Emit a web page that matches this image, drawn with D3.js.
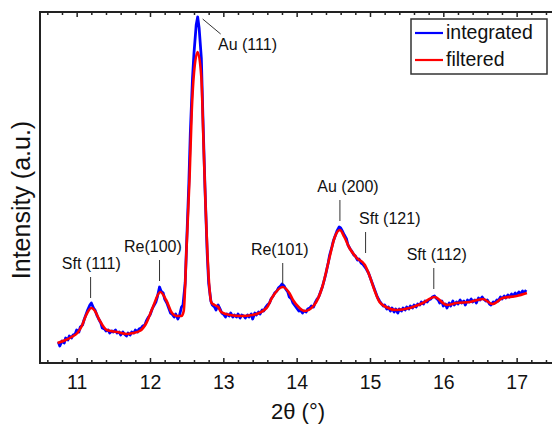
<!DOCTYPE html>
<html>
<head>
<meta charset="utf-8">
<script src="https://cdn.jsdelivr.net/npm/d3@7"></script>
<style>
  body { margin: 0; background: #fff; }
  svg { display: block; font-family: "Liberation Sans", Arial, Helvetica, sans-serif; }
  .frame { stroke: #222; stroke-width: 2; fill: none; }
  .tick line { stroke: #222; stroke-width: 1.5; }
  .domain { display: none; }
  .integrated { fill: none; stroke: #0000ff; stroke-width: 2.8; stroke-linejoin: round; }
  .filtered { fill: none; stroke: #ff0000; stroke-width: 2.6; stroke-linejoin: round; }
  .leader { stroke: #333; stroke-width: 1; }
</style>
</head>
<body>
<div class="container"></div>
<script>
const WIDTH = 552;
const HEIGHT = 424;
const LEFT = 40;
const TOP = 12;
const BOTTOM = 363;

// tick labels
var xTicks = [11, 12, 13, 14, 15, 16, 17];

// filtered curve: 2theta (deg), intensity (a.u.)
var filteredT = [10.74, 10.85, 10.93, 11.01, 11.07, 11.13, 11.20, 11.25, 11.31, 11.41,
  11.55, 11.68, 11.77, 11.86, 11.95, 12.04, 12.14, 12.22, 12.30, 12.36,
  12.43, 12.46, 12.50, 12.54, 12.57, 12.60, 12.65, 12.70, 12.73, 12.76,
  12.80, 12.84, 12.88, 12.93, 12.97, 13.09, 13.25, 13.40, 13.59, 13.67,
  13.81, 13.90, 13.95, 14.04, 14.11, 14.24, 14.35, 14.45, 14.52, 14.59,
  14.65, 14.72, 14.82, 14.93, 14.99, 15.06, 15.13, 15.22, 15.36, 15.54,
  15.72, 15.88, 16.05, 16.18, 16.36, 16.54, 16.67, 16.81, 17.00, 17.14];
var filteredI = [20, 23, 26, 30, 37, 48, 55, 52, 43, 33,
  31, 29, 30, 32, 40, 56, 71, 63, 50, 47,
  47, 52, 118, 186, 253, 290, 311, 286, 220, 153,
  86, 60, 58, 56, 51, 48, 47, 48, 55, 66,
  76, 70, 63, 55, 52, 58, 76, 106, 126, 133,
  126, 115, 105, 98, 88, 73, 61, 56, 53, 55,
  60, 66, 58, 60, 61, 64, 59, 65, 67, 70];

// integrated (raw) curve: 2theta (deg), intensity (a.u.)
var integratedT = [10.75, 10.77, 10.80, 10.83, 10.85, 10.88, 10.90, 10.93, 10.95, 10.98,
  11.00, 11.03, 11.05, 11.08, 11.10, 11.13, 11.15, 11.18, 11.20, 11.23,
  11.25, 11.28, 11.30, 11.33, 11.35, 11.38, 11.40, 11.43, 11.45, 11.48,
  11.50, 11.53, 11.55, 11.58, 11.60, 11.63, 11.65, 11.68, 11.70, 11.73,
  11.75, 11.78, 11.80, 11.83, 11.85, 11.88, 11.90, 11.93, 11.95, 11.98,
  12.00, 12.03, 12.05, 12.08, 12.10, 12.13, 12.15, 12.18, 12.20, 12.23,
  12.25, 12.28, 12.30, 12.33, 12.35, 12.38, 12.40, 12.43, 12.45, 12.48,
  12.50, 12.53, 12.55, 12.58, 12.60, 12.63, 12.65, 12.67, 12.70, 12.72,
  12.75, 12.78, 12.80, 12.83, 12.85, 12.88, 12.90, 12.93, 12.95, 12.98,
  13.00, 13.03, 13.05, 13.08, 13.10, 13.13, 13.15, 13.18, 13.20, 13.23,
  13.25, 13.28, 13.30, 13.33, 13.35, 13.38, 13.40, 13.43, 13.45, 13.48,
  13.50, 13.53, 13.55, 13.58, 13.60, 13.63, 13.65, 13.68, 13.70, 13.73,
  13.75, 13.78, 13.80, 13.83, 13.85, 13.88, 13.90, 13.93, 13.95, 13.98,
  14.00, 14.03, 14.05, 14.08, 14.10, 14.13, 14.15, 14.18, 14.20, 14.23,
  14.25, 14.28, 14.30, 14.33, 14.35, 14.38, 14.40, 14.43, 14.45, 14.48,
  14.50, 14.53, 14.55, 14.58, 14.60, 14.63, 14.65, 14.68, 14.70, 14.73,
  14.75, 14.78, 14.80, 14.83, 14.85, 14.88, 14.90, 14.93, 14.95, 14.98,
  15.00, 15.03, 15.05, 15.08, 15.10, 15.13, 15.15, 15.18, 15.20, 15.23,
  15.25, 15.28, 15.30, 15.33, 15.35, 15.38, 15.40, 15.43, 15.45, 15.48,
  15.50, 15.53, 15.55, 15.58, 15.60, 15.63, 15.65, 15.68, 15.70, 15.73,
  15.75, 15.78, 15.80, 15.83, 15.85, 15.88, 15.90, 15.93, 15.95, 15.98,
  16.00, 16.03, 16.05, 16.08, 16.10, 16.13, 16.15, 16.18, 16.20, 16.23,
  16.25, 16.28, 16.30, 16.33, 16.35, 16.38, 16.40, 16.43, 16.45, 16.48,
  16.50, 16.53, 16.55, 16.58, 16.60, 16.63, 16.65, 16.68, 16.70, 16.73,
  16.75, 16.78, 16.80, 16.83, 16.85, 16.88, 16.90, 16.93, 16.95, 16.98,
  17.00, 17.03, 17.05, 17.08, 17.10, 17.13];
var integratedI = [21, 17, 22, 20, 25, 23, 27, 25, 28, 29,
  33, 31, 36, 38, 43, 49, 53, 58, 60, 55,
  53, 47, 44, 40, 35, 34, 32, 33, 30, 32,
  31, 33, 30, 31, 28, 31, 29, 27, 30, 28,
  31, 30, 33, 31, 34, 35, 37, 38, 42, 46,
  48, 54, 57, 61, 66, 76, 72, 70, 64, 60,
  56, 50, 49, 46, 49, 44, 47, 56, 58, 80,
  120, 180, 230, 285, 310, 338, 346, 335, 305, 250,
  175, 110, 80, 62, 58, 56, 53, 58, 55, 50,
  49, 46, 49, 47, 50, 46, 48, 46, 49, 45,
  48, 47, 45, 48, 46, 49, 44, 50, 48, 51,
  49, 53, 52, 56, 58, 60, 64, 67, 70, 72,
  75, 77, 79, 77, 74, 71, 66, 64, 60, 57,
  55, 52, 53, 50, 52, 51, 54, 55, 57, 56,
  60, 64, 66, 72, 76, 84, 90, 100, 108, 116,
  122, 128, 132, 136, 135, 131, 128, 124, 118, 114,
  112, 108, 107, 103, 104, 100, 99, 96, 94, 90,
  86, 80, 76, 70, 66, 62, 60, 57, 58, 54,
  56, 52, 55, 51, 54, 50, 54, 52, 55, 53,
  56, 54, 57, 55, 58, 56, 59, 58, 61, 59,
  62, 61, 63, 64, 66, 67, 65, 63, 60, 62,
  57, 59, 55, 60, 57, 62, 58, 61, 59, 63,
  60, 62, 58, 63, 61, 64, 61, 63, 60, 65,
  63, 66, 64, 62, 63, 59, 58, 61, 60, 63,
  62, 66, 64, 67, 65, 68, 66, 69, 67, 70,
  68, 71, 69, 72, 70, 73];

// peak annotations: label, peak position, intensity at leader top, label centre position
var annText = ["Sft (111)", "Re(100)", "Au (111)", "Re(101)", "Au (200)", "Sft (121)", "Sft (112)"];
var annPeak = [11.19, 12.13, 12.65, 13.81, 14.59, 14.94, 15.87];
var annTop = [86, 103, 344, 100, 163, 131, 95];
var annLabelX = [11.20, 12.04, 13.33, 13.77, 14.70, 15.27, 15.91];

var legendNames = ["integrated", "filtered"];

var translate = function (x, y) {
  return 'translate(' + x + ',' + y + ')';
};

var zip = function (ts, vs) {
  return ts.map(function (t, i) { return {t: t, v: vs[i]}; });
};

var execute = function () {
  var svg = d3.select('.container').append('svg')
    .attr('width', WIDTH)
    .attr('height', HEIGHT);

  var xScale = d3.scaleLinear()
    .domain([10.5, 17.5])
    .range([LEFT, LEFT + 7 * 73.33]);

  var yScale = d3.scaleLinear()
    .domain([0, 351])
    .range([BOTTOM, TOP]);

  var minorTicks = d3.range(10.6, 17.5, 0.2).filter(function (d) {
    return Math.abs(d - Math.round(d)) > 0.01;
  });

  // bottom axis: inward ticks + labels
  var xAxis = d3.axisBottom(xScale).tickValues(xTicks).tickFormat(d3.format('d'))
    .tickSizeInner(-5).tickSizeOuter(0).tickPadding(12);
  var gx = svg.append('g').attr('transform', translate(0, BOTTOM)).call(xAxis);
  gx.selectAll('text').attr('font-size', '19.5px').attr('fill', '#111').attr('font-family', null);
  svg.append('g').attr('transform', translate(0, BOTTOM))
    .call(d3.axisBottom(xScale).tickValues(minorTicks).tickSizeInner(-3).tickSizeOuter(0).tickFormat(''));

  // top axis: inward ticks, no labels
  svg.append('g').attr('transform', translate(0, TOP))
    .call(d3.axisTop(xScale).tickValues(xTicks).tickSizeInner(-5).tickSizeOuter(0).tickFormat(''));
  svg.append('g').attr('transform', translate(0, TOP))
    .call(d3.axisTop(xScale).tickValues(minorTicks).tickSizeInner(-3).tickSizeOuter(0).tickFormat(''));

  svg.append('path').classed('frame', true)
    .attr('d', 'M' + WIDTH + ',' + TOP + 'H' + LEFT + 'V' + BOTTOM + 'H' + WIDTH);

  var line = d3.line()
    .x(function (d) { return xScale(d.t); })
    .y(function (d) { return yScale(d.v); });

  svg.append('path').classed('integrated', true)
    .attr('d', line(zip(integratedT, integratedI)));
  svg.append('path').classed('filtered', true)
    .attr('d', line.curve(d3.curveMonotoneX)(zip(filteredT, filteredI)));

  // annotations
  annText.forEach(function (txt, i) {
    var px = xScale(annPeak[i]);
    var py = yScale(annTop[i]);
    var g = svg.append('g');
    if (txt === 'Au (111)') {
      g.append('line').classed('leader', true)
        .attr('x1', px + 5).attr('y1', py)
        .attr('x2', px + 23).attr('y2', py + 15);
      g.append('text').attr('x', xScale(annLabelX[i])).attr('y', py + 31)
        .attr('text-anchor', 'middle').attr('font-size', '16px').attr('fill', '#111').text(txt);
    } else {
      g.append('line').classed('leader', true)
        .attr('x1', px).attr('y1', py)
        .attr('x2', px).attr('y2', py + 21);
      g.append('text').attr('x', xScale(annLabelX[i])).attr('y', py - 8)
        .attr('text-anchor', 'middle').attr('font-size', '16px').attr('fill', '#111').text(txt);
    }
  });

  // axis titles
  svg.append('text')
    .attr('x', 298).attr('y', 419)
    .attr('text-anchor', 'middle').attr('font-size', '22px').attr('fill', '#111')
    .text('2θ (°)');
  svg.append('text')
    .attr('transform', translate(30, 200) + ' rotate(-90)')
    .attr('text-anchor', 'middle').attr('font-size', '25px').attr('fill', '#111')
    .text('Intensity (a.u.)');

  // legend
  var colors = ['#0000ff', '#ff0000'];
  var lg = svg.append('g').attr('transform', translate(411, 19));
  lg.append('rect').attr('width', 136).attr('height', 55)
    .attr('fill', '#fff').attr('stroke', '#333').attr('stroke-width', 1.5);
  legendNames.forEach(function (name, i) {
    lg.append('line').attr('x1', 4).attr('x2', 32)
      .attr('y1', 14 + i * 27).attr('y2', 14 + i * 27)
      .attr('stroke', colors[i]).attr('stroke-width', 2.2);
    lg.append('text').attr('x', 35).attr('y', 20 + i * 27)
      .attr('font-size', '19.5px').attr('fill', '#111').text(name);
  });
};

window.onload = execute;
</script>
</body>
</html>
